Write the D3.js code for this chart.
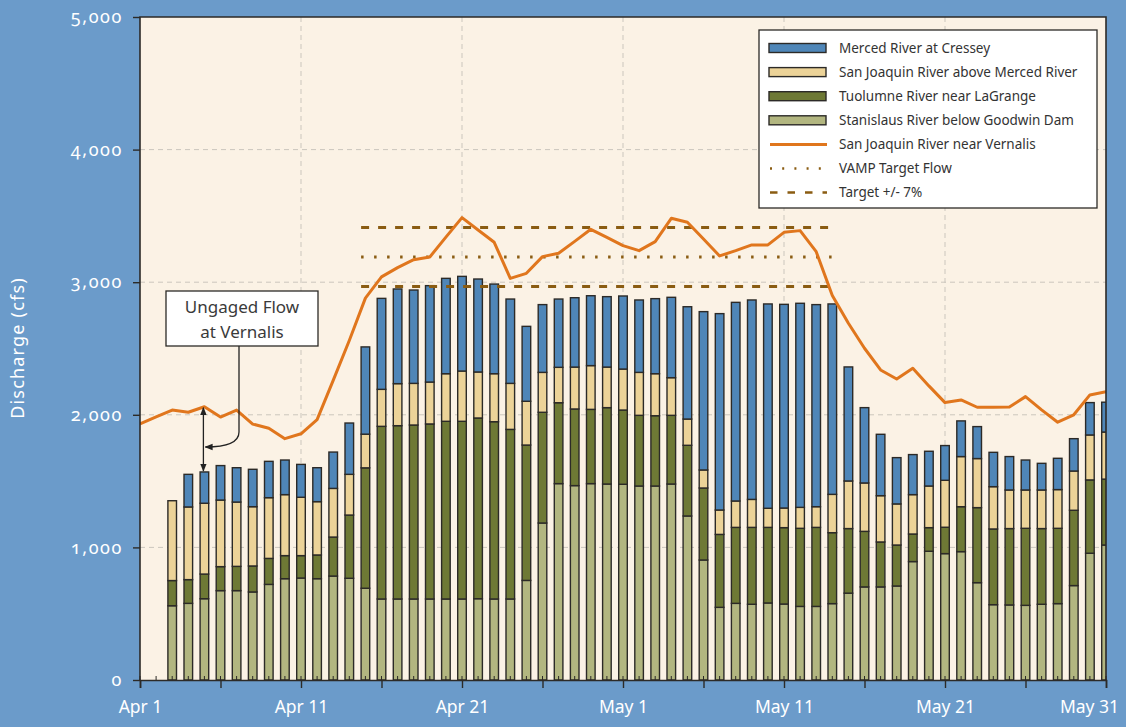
<!DOCTYPE html>
<html>
<head>
<meta charset="utf-8">
<script src="https://cdn.jsdelivr.net/npm/d3@7.9.0/dist/d3.min.js"></script>
<style>
  body { margin: 0; background: #6b9bca; }
  svg { display: block; }
  text { font-family: "Noto Sans", sans-serif; }
</style>
</head>
<body>
<svg id="chart" width="1126" height="727"></svg>
<script>
// daily flows, Apr 3 - May 31 (cfs)
const stanislaus = [560, 578, 613, 674, 674, 664, 721, 764, 769, 764, 784, 767, 692, 611, 611, 611, 611, 611, 611, 613, 611, 611,
  751, 1184, 1481, 1466, 1481, 1478, 1476, 1463, 1463, 1478, 1237, 905, 548, 578, 571, 581, 573, 555, 555, 576,
  655, 702, 702, 709, 893, 971, 953, 968, 734, 568, 566, 563, 571, 576, 712, 956, 1018];
const tuolumne = [190, 179, 186, 181, 183, 196, 196, 174, 169, 179, 294, 477, 908, 1302, 1307, 1312, 1320, 1340, 1340, 1363, 1337, 1279,
  1021, 835, 610, 578, 560, 576, 560, 533, 530, 518, 533, 543, 550, 573, 580, 570, 576, 589, 596, 535,
  487, 419, 339, 309, 208, 178, 199, 339, 566, 571, 576, 581, 571, 568, 568, 553, 497];
const sanJoaquinAbove = [602, 548, 534, 502, 485, 447, 458, 460, 440, 402, 367, 307, 254, 279, 317, 314, 316, 359, 379, 347, 362, 347,
  330, 301, 267, 316, 330, 306, 309, 324, 317, 284, 198, 136, 184, 199, 211, 144, 148, 158, 156, 289,
  359, 365, 349, 310, 297, 314, 354, 378, 370, 319, 291, 289, 291, 292, 296, 339, 355];
const merced = [0, 246, 236, 260, 259, 282, 274, 261, 248, 256, 274, 387, 658, 686, 714, 704, 727, 719, 714, 701, 676, 636,
  565, 511, 515, 523, 527, 531, 551, 546, 566, 606, 847, 1194, 1481, 1498, 1504, 1541, 1536, 1539, 1524, 1436,
  860, 568, 463, 349, 302, 262, 262, 269, 241, 259, 252, 226, 201, 236, 244, 244, 225];
// San Joaquin River near Vernalis, Apr 1 - May 31
const vernalis = [1931, 1985, 2036, 2019, 2061, 1983, 2036, 1930, 1898, 1820, 1857, 1964, 2260, 2560, 2880, 3040, 3110, 3170, 3190, 3340,
  3487, 3394, 3301, 3029, 3067, 3193, 3218, 3308, 3399, 3338, 3276, 3238, 3306, 3482, 3452, 3326, 3198, 3238, 3281, 3281,
  3376, 3389, 3230, 2900, 2690, 2502, 2338, 2270, 2351, 2218, 2092, 2112, 2057, 2057, 2059, 2137, 2037, 1944, 2000, 2150, 2175];
const vampTarget = 3190;
const targetBand = 0.07;
const targetStart = "2005-04-15", targetEnd = "2005-05-14";
const yTicks = [0, 1000, 2000, 3000, 4000, 5000];

const seriesKeys = ["stanislaus", "tuolumne", "sanJoaquinAbove", "merced"];
const seriesNames = {
  merced: "Merced River at Cressey",
  sanJoaquinAbove: "San Joaquin River above Merced River",
  tuolumne: "Tuolumne River near LaGrange",
  stanislaus: "Stanislaus River below Goodwin Dam"
};
const colors = { stanislaus: "#b2b680", tuolumne: "#6e7935", sanJoaquinAbove: "#ecd398", merced: "#4f86b8" };

const parse = d3.utcParse("%Y-%m-%d");
const barDates = d3.utcDay.range(parse("2005-04-03"), parse("2005-06-01"));
const lineDates = d3.utcDay.range(parse("2005-04-01"), parse("2005-06-01"));

const rows = barDates.map((d, i) => ({
  date: d, stanislaus: stanislaus[i], tuolumne: tuolumne[i],
  sanJoaquinAbove: sanJoaquinAbove[i], merced: merced[i]
}));

const L = 140, R = 1106, T = 17, B = 680;
const svg = d3.select("#chart");
const x = d3.scaleUtc().domain([parse("2005-04-01"), parse("2005-05-31")]).range([L, R]);
const y = d3.scaleLinear().domain([0, 5000]).range([B, T]);

// arrow markers
const defs = svg.append("defs");
defs.append("clipPath").attr("id", "plot").append("rect")
  .attr("x", L).attr("y", T).attr("width", R - L).attr("height", B - T);
defs.append("marker").attr("id", "arrow").attr("viewBox", "0 0 10 10")
  .attr("refX", 9).attr("refY", 5).attr("markerWidth", 8).attr("markerHeight", 8)
  .attr("orient", "auto-start-reverse").attr("markerUnits", "userSpaceOnUse")
  .append("path").attr("d", "M0,1 L10,5 L0,9 Z").attr("fill", "#222");

svg.append("rect").attr("x", L).attr("y", T).attr("width", R - L).attr("height", B - T).attr("fill", "#fbf2e5");

// gridlines
const grid = svg.append("g").attr("stroke", "#cbc6bd").attr("stroke-dasharray", "5,4").attr("stroke-width", 1);
grid.selectAll(".h").data([1000, 2000, 3000, 4000]).join("line")
  .attr("x1", L).attr("x2", R).attr("y1", d => y(d)).attr("y2", d => y(d));
const labelDates = d3.utcDay.range(parse("2005-04-01"), parse("2005-06-01"), 10);
grid.selectAll(".v").data(labelDates.slice(1, -1)).join("line")
  .attr("y1", T).attr("y2", B).attr("x1", d => x(d)).attr("x2", d => x(d));

const plot = svg.append("g").attr("clip-path", "url(#plot)");

// stacked bars
const stack = d3.stack().keys(seriesKeys)(rows);
const barW = 8.6;
plot.selectAll("g.series").data(stack).join("g")
  .attr("fill", d => colors[d.key])
  .selectAll("rect").data(d => d).join("rect")
  .attr("x", d => x(d.data.date) - barW / 2)
  .attr("width", barW)
  .attr("y", d => y(d[1]))
  .attr("height", d => y(d[0]) - y(d[1]))
  .attr("stroke", "#2c2a27").attr("stroke-width", 1.4);

// target flow lines
const tx1 = x(parse(targetStart)) - barW / 2, tx2 = x(parse(targetEnd)) + barW / 2;
const targets = [
  { v: vampTarget * (1 + targetBand), dash: "8,9" },
  { v: vampTarget, dash: "2.5,10.5" },
  { v: vampTarget * (1 - targetBand), dash: "8,9" }
];
plot.selectAll("line.target").data(targets).join("line")
  .attr("x1", tx1).attr("x2", tx2).attr("y1", d => y(d.v)).attr("y2", d => y(d.v))
  .attr("stroke", "#8a5c12").attr("stroke-width", 3).attr("stroke-dasharray", d => d.dash);

// Vernalis line
plot.append("path").datum(vernalis)
  .attr("fill", "none").attr("stroke", "#e0761d").attr("stroke-width", 3).attr("stroke-linejoin", "round")
  .attr("d", d3.line().x((d, i) => x(lineDates[i])).y(d => y(d)));

// minor day ticks
svg.append("g").selectAll("line").data(lineDates).join("line")
  .attr("x1", d => x(d)).attr("x2", d => x(d)).attr("y1", B).attr("y2", B - 4)
  .attr("stroke", "#2c2a27").attr("stroke-width", 1);

// frame
svg.append("path").attr("d", `M${L},${B}V${T}H${R}V${B}`)
  .attr("fill", "none").attr("stroke", "#2c2a27").attr("stroke-width", 1.6);

// x axis
const xAxis = d3.axisBottom(x)
  .tickValues(d3.utcDay.range(parse("2005-04-01"), parse("2005-06-01"), 5))
  .tickSize(8)
  .tickFormat(d => labelDates.some(l => +l === +d) ? d3.utcFormat("%b %-d")(d) : "");
const gx = svg.append("g").attr("transform", `translate(0,${B})`).call(xAxis);
gx.select(".domain").attr("stroke", "#2c2a27").attr("stroke-width", 1.6);
gx.selectAll(".tick line").attr("stroke", "#2c2a27").attr("stroke-width", 1.4);
gx.selectAll("text").attr("fill", "#fff").attr("font-size", 17.5).attr("dy", "1.25em")
  .style("font-family", '"Noto Sans", sans-serif');
// keep the last label inside the window
gx.selectAll(".tick").filter(d => +d === +x.domain()[1]).select("text").attr("x", -17);

// y axis
const yAxis = d3.axisLeft(y).tickValues(yTicks).tickSize(7).tickPadding(10).tickFormat(d3.format(","));
const gy = svg.append("g").attr("transform", `translate(${L},0)`).call(yAxis);
gy.select(".domain").remove();
gy.selectAll(".tick line").attr("stroke", "#2c2a27").attr("stroke-width", 1.4);
gy.selectAll("text").attr("fill", "#fff").attr("font-size", 18)
  .style("font-family", '"Noto Sans", sans-serif').style("font-variant-numeric", "oldstyle-nums")
  .attr("letter-spacing", 1.6);

svg.append("text").attr("transform", "translate(24,348) rotate(-90)")
  .attr("text-anchor", "middle").attr("fill", "#fff").attr("font-size", 18)
  .attr("letter-spacing", 1.2)
  .text("Discharge (cfs)");

// annotation: ungaged flow
const ann = parse("2005-04-05");
const ai = d3.bisectLeft(barDates, ann);
const annTop = y(vernalis[d3.bisectLeft(lineDates, ann)]);
const annBot = y(stanislaus[ai] + tuolumne[ai] + sanJoaquinAbove[ai] + merced[ai]);
const ax = x(ann) - 1;
svg.append("line").attr("x1", ax).attr("x2", ax).attr("y1", annTop + 1).attr("y2", annBot - 1)
  .attr("stroke", "#222").attr("stroke-width", 1.3)
  .attr("marker-start", "url(#arrow)").attr("marker-end", "url(#arrow)");
svg.append("path").attr("d", `M239,346 V432 Q239,447 ${ax + 2},447`)
  .attr("fill", "none").attr("stroke", "#222").attr("stroke-width", 1.3).attr("marker-end", "url(#arrow)");
svg.append("rect").attr("x", 166).attr("y", 291).attr("width", 152).attr("height", 55)
  .attr("fill", "#fff").attr("stroke", "#2c2a27").attr("stroke-width", 1.3);
svg.append("text").attr("x", 242).attr("y", 313).attr("text-anchor", "middle")
  .attr("fill", "#3a3a3a").attr("font-size", 17).text("Ungaged Flow");
svg.append("text").attr("x", 242).attr("y", 338).attr("text-anchor", "middle")
  .attr("fill", "#3a3a3a").attr("font-size", 17).text("at Vernalis");

// legend
const lg = svg.append("g");
lg.append("rect").attr("x", 759).attr("y", 30).attr("width", 338).attr("height", 178)
  .attr("fill", "#fff").attr("stroke", "#2c2a27").attr("stroke-width", 1.3);
const legendItems = [
  { label: seriesNames.merced, type: "bar", color: colors.merced },
  { label: seriesNames.sanJoaquinAbove, type: "bar", color: colors.sanJoaquinAbove },
  { label: seriesNames.tuolumne, type: "bar", color: colors.tuolumne },
  { label: seriesNames.stanislaus, type: "bar", color: colors.stanislaus },
  { label: "San Joaquin River near Vernalis", type: "line", color: "#e0761d" },
  { label: "VAMP Target Flow", type: "dot", color: "#8a5c12" },
  { label: "Target +/- 7%", type: "dash", color: "#8a5c12" }
];
const li = lg.selectAll("g.item").data(legendItems).join("g")
  .attr("transform", (d, i) => `translate(769,${48 + i * 24.1})`);
li.filter(d => d.type === "bar").append("rect")
  .attr("x", 0).attr("y", -4.5).attr("width", 57).attr("height", 9)
  .attr("fill", d => d.color).attr("stroke", "#2c2a27").attr("stroke-width", 1.4);
li.filter(d => d.type !== "bar").append("line")
  .attr("x1", 1).attr("x2", 58).attr("y1", 0).attr("y2", 0)
  .attr("stroke", d => d.color).attr("stroke-width", d => d.type === "line" ? 3 : 2.5)
  .attr("stroke-dasharray", d => d.type === "dot" ? "2,10.2" : d.type === "dash" ? "7.5,10" : null);
li.append("text").attr("x", 70).attr("y", 0).attr("dy", "0.35em")
  .attr("fill", "#333").attr("font-size", 13.5).text(d => d.label);
</script>
</body>
</html>
